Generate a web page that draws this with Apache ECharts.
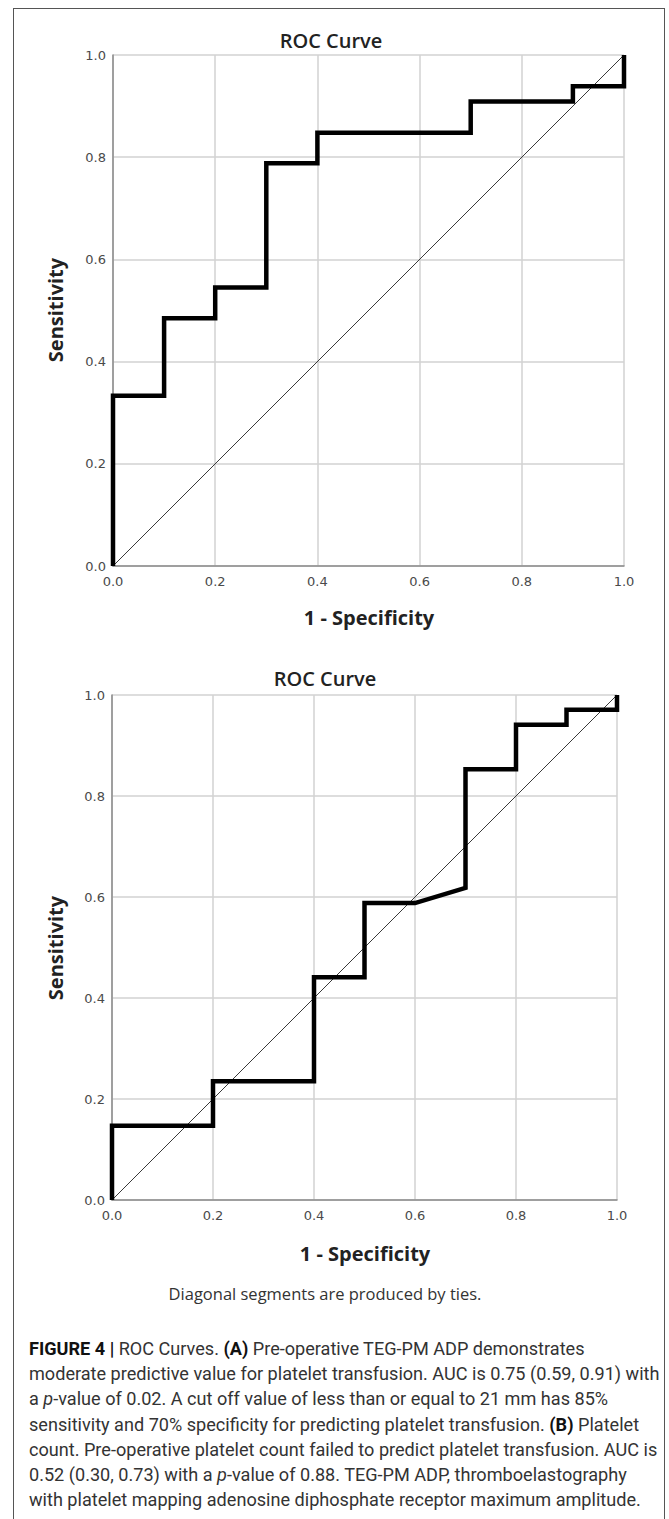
<!DOCTYPE html>
<html>
<head>
<meta charset="utf-8">
<script src="https://cdn.jsdelivr.net/npm/echarts@6/dist/echarts.min.js"></script>
<style>
  html, body { margin: 0; padding: 0; background: #fff; }
  #wrap { position: relative; width: 669px; height: 1519px; overflow: hidden; }
  #frame { position: absolute; left: 13px; top: 8px; width: 652px; height: 1530px;
           border: 1.5px solid #555; box-sizing: border-box; }
  #chart { position: absolute; left: 0; top: 0; width: 669px; height: 1519px; }
  #caption { position: absolute; left: 29px; top: 1336px; width: 640px; z-index: 5;
             font-family: Roboto, "Liberation Sans", sans-serif; font-size: 18.1px;
             line-height: 25.2px; color: #333; white-space: nowrap; letter-spacing: 0; }
  #caption b { color: #111; font-weight: 700; }
</style>
</head>
<body>
<div id="wrap">
  <div id="frame"></div>
  <div id="chart"></div>
  <div id="caption">
    <div><b>FIGURE 4 |</b> ROC Curves. <b>(A)</b> Pre-operative TEG-PM ADP demonstrates</div>
    <div>moderate predictive value for platelet transfusion. AUC is 0.75 (0.59, 0.91) with</div>
    <div>a <i>p</i>-value of 0.02. A cut off value of less than or equal to 21 mm has 85%</div>
    <div>sensitivity and 70% specificity for predicting platelet transfusion. <b>(B)</b> Platelet</div>
    <div>count. Pre-operative platelet count failed to predict platelet transfusion. AUC is</div>
    <div>0.52 (0.30, 0.73) with a <i>p</i>-value of 0.88. TEG-PM ADP, thromboelastography</div>
    <div>with platelet mapping adenosine diphosphate receptor maximum amplitude.</div>
  </div>
</div>
<script>
// ---- Data ----
// Panel A: TEG-PM ADP ROC curve (1 - specificity, sensitivity)
const rocA_fpr = [0.0, 0.0, 0.1, 0.1, 0.2, 0.2, 0.3, 0.3, 0.4, 0.4, 0.7, 0.7, 0.9, 0.9, 1.0, 1.0];
const rocA_tpr = [0.0, 0.333, 0.333, 0.485, 0.485, 0.545, 0.545, 0.788, 0.788, 0.848, 0.848, 0.909, 0.909, 0.939, 0.939, 1.0];
// Panel B: Platelet count ROC curve
const rocB_fpr = [0.0, 0.0, 0.2, 0.2, 0.4, 0.4, 0.5, 0.5, 0.6, 0.7, 0.7, 0.8, 0.8, 0.9, 0.9, 1.0, 1.0];
const rocB_tpr = [0.0, 0.147, 0.147, 0.235, 0.235, 0.441, 0.441, 0.588, 0.588, 0.618, 0.853, 0.853, 0.941, 0.941, 0.971, 0.971, 1.0];
// Reference line
const diagonal = [[0, 0], [1, 1]];
// Axis ticks
const axisMin = 0, axisMax = 1, axisStep = 0.2;
const chartTitle = 'ROC Curve';
const xTitle = '1 - Specificity';
const yTitle = 'Sensitivity';
const footnote = 'Diagonal segments are produced by ties.';

const zip = (xs, ys) => xs.map((x, i) => [x, ys[i]]);

const chart = echarts.init(document.getElementById('chart'), null, { renderer: 'svg' });

const grids = [
  { left: 113, top: 55, width: 511, height: 511 },
  { left: 112, top: 695, width: 505, height: 505 }
];

function makeAxis(type, gi) {
  return {
    type: 'value', gridIndex: gi, min: axisMin, max: axisMax, interval: axisStep,
    axisLine: { show: true, lineStyle: { color: '#8a8a8a', width: 1.5 } },
    axisTick: { show: false },
    splitLine: { show: true, lineStyle: { color: '#d2d2d2', width: 1.5 } },
    axisLabel: {
      color: '#4a4a4a', fontFamily: 'DejaVu Sans', fontSize: 13,
      margin: type === 'x' ? 9 : 7,
      formatter: v => v.toFixed(1)
    }
  };
}

const textStyleTitle = { fontFamily: 'Open Sans', fontWeight: 600, fontSize: 20, fill: '#222' };
const textStyleAxis = { fontFamily: 'Open Sans', fontWeight: 700, fontSize: 20, fill: '#222' };

function txt(x, y, text, style, rotation) {
  return {
    type: 'text', x: x, y: y, rotation: rotation || 0,
    style: Object.assign({ text: text, textAlign: 'center', textVerticalAlign: 'middle' }, style)
  };
}

const option = {
  animation: false,
  grid: grids,
  xAxis: [makeAxis('x', 0), makeAxis('x', 1)],
  yAxis: [makeAxis('y', 0), makeAxis('y', 1)],
  series: [
    { type: 'line', xAxisIndex: 0, yAxisIndex: 0, data: diagonal, symbol: 'none',
      lineStyle: { color: '#3a3a3a', width: 1 }, z: 2 },
    { type: 'line', xAxisIndex: 0, yAxisIndex: 0, data: zip(rocA_fpr, rocA_tpr), symbol: 'none',
      lineStyle: { color: '#000', width: 4.5, join: 'miter' }, z: 3 },
    { type: 'line', xAxisIndex: 1, yAxisIndex: 1, data: diagonal, symbol: 'none',
      lineStyle: { color: '#3a3a3a', width: 1 }, z: 2 },
    { type: 'line', xAxisIndex: 1, yAxisIndex: 1, data: zip(rocB_fpr, rocB_tpr), symbol: 'none',
      lineStyle: { color: '#000', width: 4.5, join: 'miter' }, z: 3 }
  ],
  graphic: [
    txt(331, 40, chartTitle, textStyleTitle),
    txt(369, 617, xTitle, textStyleAxis),
    txt(55, 310, yTitle, textStyleAxis, Math.PI / 2),
    txt(325, 678, chartTitle, textStyleTitle),
    txt(365, 1253, xTitle, textStyleAxis),
    txt(55, 948, yTitle, textStyleAxis, Math.PI / 2),
    txt(325, 1293, footnote, { fontFamily: 'Open Sans', fontWeight: 500, fontSize: 16.5, fill: '#333' })
  ]
};
chart.setOption(option);
</script>
</body>
</html>
